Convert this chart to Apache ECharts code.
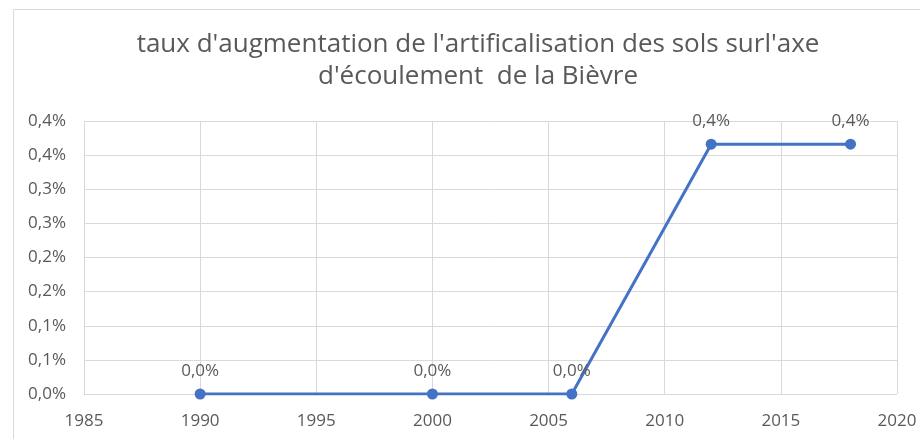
<!DOCTYPE html>
<html>
<head>
<meta charset="utf-8">
<script src="https://cdn.jsdelivr.net/npm/echarts@6/dist/echarts.min.js"></script>
<style>
  html, body { margin: 0; padding: 0; background: #fff; }
  #container { width: 920px; height: 439px; }
</style>
</head>
<body>
<div id="container"></div>
<script>
const titleText = "taux d'augmentation de l'artificalisation des sols surl'axe\nd'écoulement  de la Bièvre";
const years = [1990, 2000, 2006, 2012, 2018];
const tauxValues = [0, 0, 0, 0.00366, 0.00366];

const fontFamily = "'Open Sans', 'Liberation Sans', sans-serif";
const textGrey = "#595959";

// Excel style: one decimal, comma, halves rounded up
function formatPct(v) {
  const r = Math.round(v * 1000 + 1e-6) / 10;
  return r.toFixed(1).replace(".", ",") + "%";
}

const myChart = echarts.init(document.getElementById("container"), null, {
  renderer: "canvas",
});

const option = {
  animation: false,
  title: {
    text: titleText,
    left: 473,
    textAlign: "center",
    top: 24,
    textStyle: {
      fontFamily: fontFamily,
      fontWeight: "normal",
      fontSize: 26,
      lineHeight: 32,
      color: textGrey,
    },
  },
  graphic: [
    {
      type: "rect",
      shape: { x: 13.5, y: 9.5, width: 940, height: 460 },
      style: { fill: "none", stroke: "#d9d9d9", lineWidth: 1 },
      silent: true,
    },
  ],
  grid: {
    left: 84,
    right: 23,
    top: 121,
    bottom: 45,
    containLabel: false,
  },
  xAxis: {
    type: "value",
    min: 1985,
    max: 2020,
    interval: 5,
    axisLine: { show: false },
    axisTick: { show: false },
    splitLine: { show: true, lineStyle: { color: "#d9d9d9", width: 1 } },
    axisLabel: {
      color: textGrey,
      fontFamily: fontFamily,
      fontSize: 17,
      margin: 19,
      formatter: (v) => String(v),
    },
  },
  yAxis: {
    type: "value",
    min: 0,
    max: 0.004,
    interval: 0.0005,
    axisLine: { show: false },
    axisTick: { show: false },
    splitLine: { show: true, lineStyle: { color: "#d9d9d9", width: 1 } },
    axisLabel: {
      color: textGrey,
      fontFamily: fontFamily,
      fontSize: 17,
      margin: 18,
      formatter: formatPct,
    },
  },
  series: [
    {
      type: "line",
      data: years.map((y, i) => [y, tauxValues[i]]),
      symbol: "circle",
      symbolSize: 11,
      lineStyle: { color: "#4472c4", width: 3 },
      itemStyle: { color: "#4472c4" },
      label: {
        show: true,
        position: "top",
        distance: 9,
        color: textGrey,
        fontFamily: fontFamily,
        fontSize: 17,
        formatter: (p) => formatPct(p.value[1]),
      },
    },
  ],
};

myChart.setOption(option);
window.addEventListener("resize", myChart.resize);
</script>
</body>
</html>
